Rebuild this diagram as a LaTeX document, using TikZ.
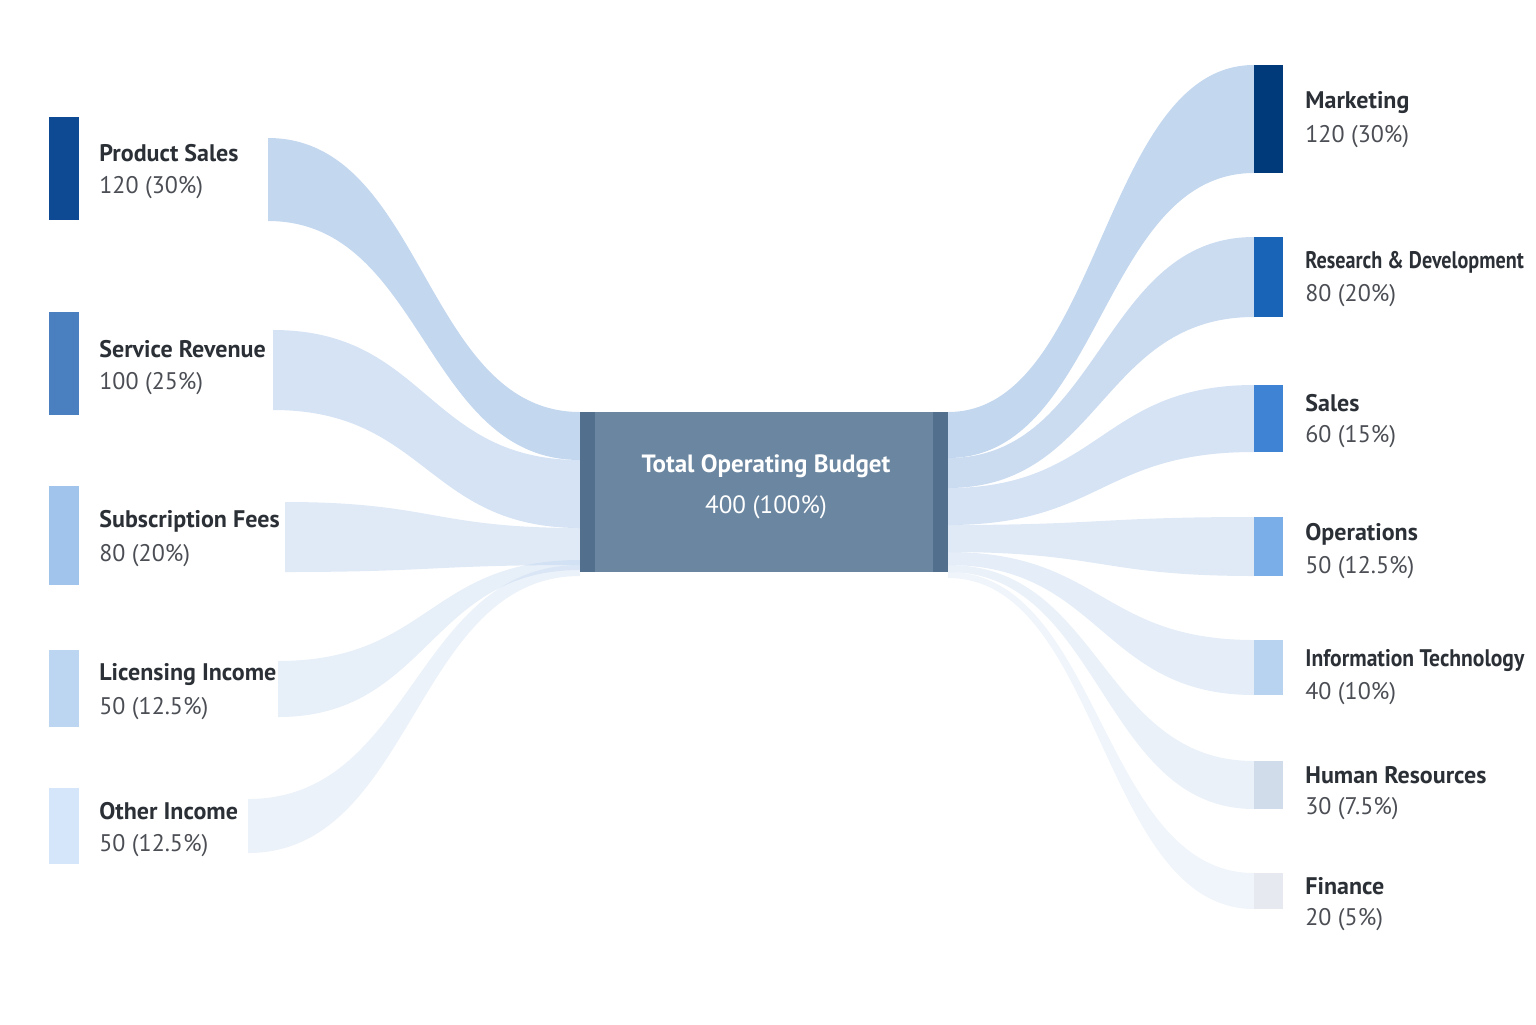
\documentclass[tikz,border=0pt]{standalone}
\usepackage{fontspec}
\setmainfont{PT Sans}
\usetikzlibrary{positioning}
\definecolor{band}{HTML}{B9D0EC}
\definecolor{boxfill}{HTML}{6B86A0}
\definecolor{boxcap}{HTML}{52708E}
\definecolor{txt}{HTML}{2B2F36}
\newcommand{\flow}[7]{%
  \fill[band, opacity=#7] (#1,#2) .. controls ({(#1+#4)/2},#2) and ({(#1+#4)/2},#5) .. (#4,#5)
    -- (#4,#6) .. controls ({(#1+#4)/2},#6) and ({(#1+#4)/2},#3) .. (#1,#3) -- cycle;}
\begin{document}
\begin{tikzpicture}[x=0.5pt, y=-0.5pt,
    lbl/.style={anchor=west, font=\bfseries\fontsize{12}{14}\selectfont, text=txt, inner sep=0pt},
    num/.style={anchor=west, font=\fontsize{12}{14}\selectfont, text=txt!85, inner sep=0pt}
    ]
\useasboundingbox (0,0) rectangle (1536,1024);
% flows into the total
\flow{268}{138}{221}{580}{412}{460}{0.85}
\flow{273}{330}{410}{580}{460}{528}{0.6}
\flow{285}{502}{572}{580}{528}{565}{0.45}
\flow{278}{661}{717}{580}{560}{570}{0.35}
\flow{248}{799}{853}{580}{565}{576}{0.28}
% flows out of the total
\flow{948}{412}{458}{1254}{65}{173}{0.85}
\flow{948}{458}{488}{1254}{237}{317}{0.75}
\flow{948}{488}{525}{1254}{385}{452}{0.6}
\flow{948}{525}{552}{1254}{517}{576}{0.45}
\flow{948}{552}{565}{1254}{640}{695}{0.38}
\flow{948}{565}{572}{1254}{761}{809}{0.3}
\flow{948}{572}{578}{1254}{873}{909}{0.22}
% center
\fill[boxfill] (580,412) rectangle (948,572);
\fill[boxcap] (580,412) rectangle (595,572);
\fill[boxcap] (933,412) rectangle (948,572);
\node[font=\bfseries\fontsize{12.5}{14}\selectfont, text=white] (total) at (766,466) {Total Operating Budget};
\node[font=\fontsize{12.5}{14}\selectfont, text=white] (totalv) at (766,507) {400 (100\%)};
% sources
\foreach \yt/\yb/\yl/\col/\lab/\val/\id in {
  117/220/153/0D4A93/Product Sales/120 (30\%)/ps,
  312/415/349/4A80C0/Service Revenue/100 (25\%)/sr,
  486/585/521/A0C4EC/Subscription Fees/80 (20\%)/sf,
  650/727/674/BCD6F2/Licensing Income/50 (12.5\%)/li,
  788/864/811/D6E6FA/Other Income/50 (12.5\%)/oi}{
  \definecolor{c}{HTML}{\col}
  \fill[c] (49,\yt) rectangle (79,\yb);
  \node[lbl] (\id) at (99,\yl) {\lab};
  \node[num] (\id v) at (99,{\yl+35}) {\val};
}
% targets
\foreach \yt/\yb/\yl/\col/\lab/\val/\id in {
  65/173/103/003A7A/Marketing/120 (30\%)/mk,
  237/317/262/1A64B8/\scalebox{0.84}[1]{Research \& Development}/80 (20\%)/rd,
  385/452/403/3F84D4/Sales/60 (15\%)/sl,
  517/576/534/7AAEE8/Operations/50 (12.5\%)/op,
  640/695/660/B7D3F0/\scalebox{0.9}[1]{Information Technology}/40 (10\%)/it,
  761/809/775/D0DCEA/Human Resources/30 (7.5\%)/hr,
  873/909/886/E6EAF0/Finance/20 (5\%)/fi}{
  \definecolor{c}{HTML}{\col}
  \fill[c] (1254,\yt) rectangle (1283,\yb);
  \node[lbl] (\id) at (1305,\yl) {\lab};
  \node[num] (\id v) at (1305,{\yl+34}) {\val};
}
\end{tikzpicture}
\end{document}
